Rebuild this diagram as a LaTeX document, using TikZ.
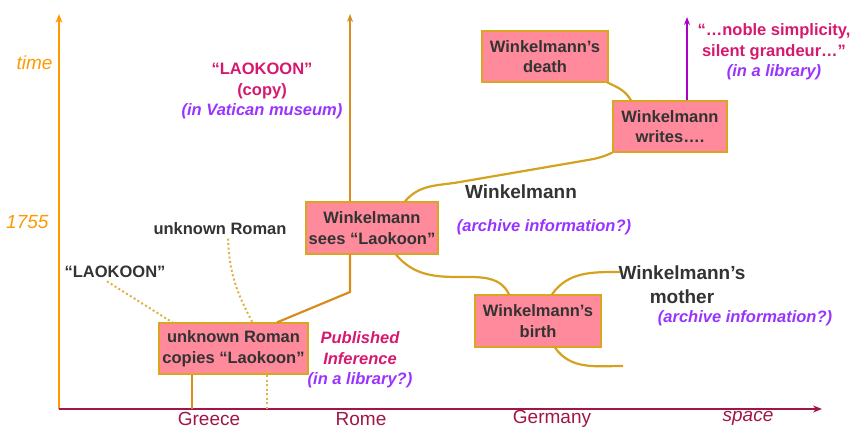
\documentclass[tikz,border=0pt]{standalone}
\usepackage{fontspec}
\setmainfont{Liberation Sans}
\usetikzlibrary{positioning, arrows.meta, calc}

\definecolor{timeorange}{RGB}{255,153,0}
\definecolor{spacered}{RGB}{160,22,72}
\definecolor{romebrown}{RGB}{214,140,30}
\definecolor{lifegold}{RGB}{212,162,32}
\definecolor{dotgold}{RGB}{224,176,64}
\definecolor{boxpink}{RGB}{255,138,155}
\definecolor{boxline}{RGB}{218,165,32}
\definecolor{darktext}{RGB}{51,51,51}
\definecolor{pinktext}{RGB}{214,24,110}
\definecolor{purpletext}{RGB}{153,51,255}
\definecolor{quotepurple}{RGB}{170,0,200}

\begin{document}
\begin{tikzpicture}[
    x=1pt, y=-1pt,
    event/.style={rectangle, draw=boxline, fill=boxpink, line width=1.2pt, text=darktext, inner sep=0pt, align=center, font=\bfseries\fontsize{16.5}{20.5}\selectfont},
    tag/.style={text=darktext, align=center, font=\bfseries\fontsize{16.5}{20.5}\selectfont},
    bigtag/.style={text=darktext, align=center, font=\bfseries\fontsize{19}{24}\selectfont},
    note/.style={align=center, inner sep=0pt, font=\bfseries\fontsize{16.5}{20.5}\selectfont},
    axistext/.style={font=\fontsize{19}{23}\selectfont},
    axisline/.style={-{Stealth[length=9pt, width=7pt]}, line width=2.7pt},
    romeline/.style={draw=romebrown, line width=2.2pt},
    lifeline/.style={draw=lifegold, line width=2.2pt},
    guess/.style={draw=dotgold, line width=2pt, dash pattern=on 2pt off 2.5pt}
]

\useasboundingbox (0,0) rectangle (852,430);

% Axes
\coordinate (origin) at (59,409);
\coordinate (timetop) at (59,14);
\coordinate (spaceend) at (822,409);
\draw[axisline, timeorange] (origin) -- (timetop);
\draw[axisline, spacered] (origin) -- (spaceend);

\node[axistext, timeorange, font=\itshape\fontsize{19}{23}\selectfont, anchor=east] (time) at (56,63) {time};
\node[axistext, timeorange, font=\itshape\fontsize{19}{23}\selectfont, anchor=east] (year) at (52,222) {1755};
\node[axistext, spacered] (greece) at (209,419) {Greece};
\node[axistext, spacered] (rome) at (361,419) {Rome};
\node[axistext, spacered] (germany) at (552,419) {Germany};
\node[axistext, spacered, font=\itshape\fontsize{19}{23}\selectfont] (space) at (748,418) {space};

% Events
\node[event, minimum width=149pt, minimum height=51pt] (copies) at (233.5,348.5) {unknown Roman\\copies “Laokoon”};
\node[event, minimum width=132pt, minimum height=52pt] (sees) at (372,228) {Winkelmann\\sees “Laokoon”};
\node[event, minimum width=126pt, minimum height=52pt] (birth) at (538,321) {Winkelmann’s\\birth};
\node[event, minimum width=126pt, minimum height=51pt] (death) at (545,56.5) {Winkelmann’s\\death};
\node[event, minimum width=114pt, minimum height=51pt] (writes) at (670,126.5) {Winkelmann\\writes….};

% Labels
\node[tag] (laokoon) at (115,272) {“LAOKOON”};
\node[tag] (roman) at (220,229) {unknown Roman};
\node[bigtag] (winkelmann) at (521,192) {Winkelmann};
\node[bigtag] (mother) at (682,285) {Winkelmann’s\\mother};
\node[note, text=purpletext, font=\bfseries\itshape\fontsize{16.5}{20.5}\selectfont] (archive) at (544,227) {(archive information?)};
\node[note, text=purpletext, font=\bfseries\itshape\fontsize{16.5}{20.5}\selectfont] (archivetwo) at (745,318) {(archive information?)};
\node[note] (vatican) at (262,91) {\textcolor{pinktext}{“LAOKOON”}\\\textcolor{pinktext}{(copy)}\\\textcolor{purpletext}{\itshape(in Vatican museum)}};
\node[note, font=\bfseries\itshape\fontsize{16.5}{20.5}\selectfont] (published) at (360,360) {\textcolor{pinktext}{Published}\\\textcolor{pinktext}{Inference}\\\textcolor{purpletext}{(in a library?)}};
\node[note] (quote) at (774,52) {\textcolor{pinktext}{“…noble simplicity,}\\\textcolor{pinktext}{silent grandeur…”}\\\textcolor{purpletext}{\itshape(in a library)}};

% Rome line
\coordinate (rometop) at (350,14);
\coordinate (romebend) at (350,292);
\draw[romeline, -{Stealth[length=8pt, width=6pt]}] (sees.north -| rometop) -- (rometop);
\draw[romeline] (sees.south -| rometop) -- (romebend) -- ([xshift=43.5pt]copies.north);

% Greece line
\coordinate (greecefoot) at (192,409);
\coordinate (copyfoot) at (267,409);
\draw[romeline] (copies.south -| greecefoot) -- (greecefoot);
\draw[guess] ([yshift=4pt]copies.south -| copyfoot) -- (copyfoot);

% Dotted sources
\draw[guess] ([xshift=-8pt]laokoon.south) -- ([xshift=14pt]copies.north west);
\draw[guess] ([xshift=8pt]roman.south) to[out=-88, in=118] ([xshift=19pt]copies.north);

% Winkelmann's life
\coordinate (lifea) at (460,182);
\coordinate (lifeb) at (588,160);
\coordinate (dip) at (458,277);
\coordinate (motherend) at (620,272);
\coordinate (lowend) at (623,366);
\draw[lifeline] ([xshift=33pt]sees.north) to[out=50, in=190] (lifea) -- (lifeb) to[out=10, in=205] (writes.south west);
\draw[lifeline] ([xshift=24pt]sees.south) to[out=-50, in=180] (dip) to[out=0, in=115] ([xshift=-29pt]birth.north);
\draw[lifeline] ([xshift=14pt]birth.north) to[out=55, in=180] (motherend);
\draw[lifeline] ([xshift=17pt]birth.south) to[out=-55, in=180] (lowend);
\draw[lifeline] ([xshift=-1pt]death.south east) to[out=-25, in=120] ([xshift=-39pt]writes.north);

% Quote arrow
\coordinate (quotetop) at (687,17);
\draw[line width=2pt, quotepurple, -{Stealth[length=8pt, width=6pt]}] (writes.north -| quotetop) -- (quotetop);

\end{tikzpicture}
\end{document}
